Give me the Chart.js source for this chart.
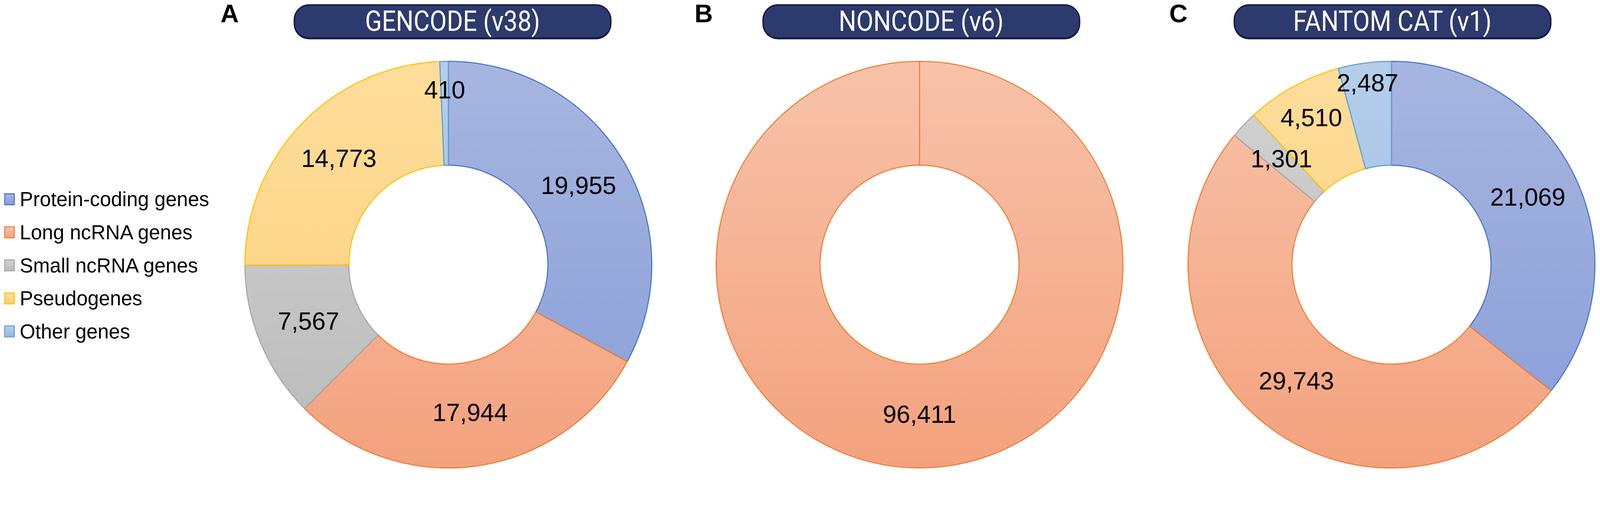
<!DOCTYPE html>
<html>
<head>
<meta charset="utf-8">
<title>Gene annotation doughnuts</title>
<script src="https://cdn.jsdelivr.net/npm/chart.js@4.4.1/dist/chart.umd.min.js"></script>
<style>
    html, body { margin: 0; padding: 0; background: #ffffff; overflow: hidden; }
    #page { width: 4550px; height: 1355px; position: absolute; left: 0; top: 0; transform-origin: 0 0; font-family: "Liberation Sans", Arial, sans-serif; }
    .panel-letter { position: absolute; top: 2px; font: bold 72px/1 "Liberation Sans", Arial, sans-serif; color: #000; }
    .pill {
        position: absolute; top: 12px; height: 100px; width: 904px; box-sizing: border-box;
        background: #2d3a6e; border: 4px solid #141c47; border-bottom-width: 6px; border-radius: 44px;
        display: flex; align-items: center; justify-content: center; overflow: hidden;
    }
    .pill span { color: #fff; font: 80px/1 Roboto, "Liberation Sans", sans-serif; transform: scaleX(0.88); white-space: nowrap; }
    .ring { position: absolute; top: 173px; width: 1160px; height: 1160px; }
    #legend { position: absolute; left: 12px; top: 520px; }
    .legend-row { height: 94px; display: flex; align-items: center; }
    .legend-box { width: 30px; height: 34px; box-sizing: border-box; border: 3px solid; margin-right: 14px; }
    .legend-row span { font: 57px/1 "Liberation Sans", Arial, sans-serif; color: #000; white-space: nowrap; }
</style>
</head>
<body>
<div id="page">
    <div class="panel-letter" style="left:627px">A</div>
    <div class="panel-letter" style="left:1975px">B</div>
    <div class="panel-letter" style="left:3325px">C</div>

    <div class="pill" style="left:835px"><span id="title-a"></span></div>
    <div class="pill" style="left:2168px"><span id="title-b"></span></div>
    <div class="pill" style="left:3508px"><span id="title-c"></span></div>

    <div id="legend"></div>

    <div class="ring" style="left:695px"><canvas id="chartA"></canvas></div>
    <div class="ring" style="left:2035px"><canvas id="chartB"></canvas></div>
    <div class="ring" style="left:3377px"><canvas id="chartC"></canvas></div>
</div>

<script>
// --- Data ---
const categories = ['Protein-coding genes', 'Long ncRNA genes', 'Small ncRNA genes', 'Pseudogenes', 'Other genes'];
const panelTitles = ['GENCODE (v38)', 'NONCODE (v6)', 'FANTOM CAT (v1)'];

const gencodeCounts = [19955, 17944, 7567, 14773, 410];
const noncodeCategories = ['Long ncRNA genes'];
const noncodeCounts = [96411];
const fantomCounts = [21069, 29743, 1301, 4510, 2487];

// --- Styles (Office-like gradient fills with a darker outline) ---
const topColors    = ['#a7b6e0', '#f8c3aa', '#d3d3d3', '#fede9c', '#b5cfeb'];
const bottomColors = ['#889ed9', '#f4a27e', '#bababa', '#fdcf78', '#93b8e3'];
const edgeColors   = ['#4472c4', '#ed7d31', '#a5a5a5', '#ffc000', '#5b9bd5'];

// Where the value label sits across the ring (0 = inner edge, 1 = outer edge);
// the thin top slices had their labels nudged outwards in the original
const gencodeLabelPos = [0.5, 0.5, 0.5, 0.5, 0.71];
const noncodeLabelPos = [0.5];
const fantomLabelPos  = [0.5, 0.5, 0.5, 0.64, 0.79];

// The figure was laid out at 4550 x 1355; fit it to whatever the viewport is
const page = document.getElementById('page');
const fit = Math.min(window.innerWidth / 4550, window.innerHeight / 1355);
page.style.transform = 'scale(' + fit + ')';

function gradientFor(chart, k) {
    const area = chart.chartArea;
    if (!area) return bottomColors[k];
    const g = chart.ctx.createLinearGradient(0, area.top, 0, area.bottom);
    g.addColorStop(0, topColors[k]);
    g.addColorStop(1, bottomColors[k]);
    return g;
}

// Draws the count on each ring segment, using the arc geometry from Chart.js
const sliceLabels = {
    id: 'sliceLabels',
    afterDatasetsDraw(chart, args, opts) {
        const ctx = chart.ctx;
        const meta = chart.getDatasetMeta(0);
        const values = chart.data.datasets[0].data;
        const along = opts.positions || [];
        ctx.save();
        ctx.font = '70px "Liberation Sans", Arial, sans-serif';
        ctx.fillStyle = '#000';
        ctx.textAlign = 'center';
        ctx.textBaseline = 'middle';
        meta.data.forEach((arc, i) => {
            const a = arc.getProps(['x', 'y', 'startAngle', 'endAngle', 'innerRadius', 'outerRadius'], true);
            const mid = (a.startAngle + a.endAngle) / 2;
            const f = along[i] !== undefined ? along[i] : 0.5;
            const r = a.innerRadius + (a.outerRadius - a.innerRadius) * f;
            ctx.fillText(values[i].toLocaleString('en-US'), a.x + Math.cos(mid) * r, a.y + Math.sin(mid) * r);
        });
        ctx.restore();
    }
};

function buildDoughnut(canvasId, labels, counts, colorIndex, labelPos) {
    const ctx = document.getElementById(canvasId);
    if (!ctx) {
        console.error('Canvas not found: ' + canvasId);
        return;
    }
    return new Chart(ctx, {
        type: 'doughnut',
        data: {
            labels: labels,
            datasets: [{
                data: counts,
                backgroundColor: (c) => gradientFor(c.chart, colorIndex[c.dataIndex]),
                borderColor: colorIndex.map(k => edgeColors[k]),
                borderWidth: 3
            }]
        },
        options: {
            responsive: true,
            maintainAspectRatio: false,
            animation: false,
            cutout: '48.9%',
            layout: { padding: 0 },
            plugins: {
                legend: { display: false },
                tooltip: { enabled: false },
                sliceLabels: { positions: labelPos }
            }
        },
        plugins: [sliceLabels]
    });
}

buildDoughnut('chartA', categories, gencodeCounts, [0, 1, 2, 3, 4], gencodeLabelPos);
buildDoughnut('chartB', noncodeCategories, noncodeCounts, [1], noncodeLabelPos);
buildDoughnut('chartC', categories, fantomCounts, [0, 1, 2, 3, 4], fantomLabelPos);

// Titles
['title-a', 'title-b', 'title-c'].forEach((id, i) => {
    document.getElementById(id).textContent = panelTitles[i];
});

// Legend built from the category list
const legend = document.getElementById('legend');
categories.forEach((name, k) => {
    const row = document.createElement('div');
    row.className = 'legend-row';
    const box = document.createElement('div');
    box.className = 'legend-box';
    box.style.borderColor = edgeColors[k];
    box.style.background = 'linear-gradient(' + topColors[k] + ', ' + bottomColors[k] + ')';
    const text = document.createElement('span');
    text.textContent = name;
    row.appendChild(box);
    row.appendChild(text);
    legend.appendChild(row);
});
</script>
</body>
</html>
